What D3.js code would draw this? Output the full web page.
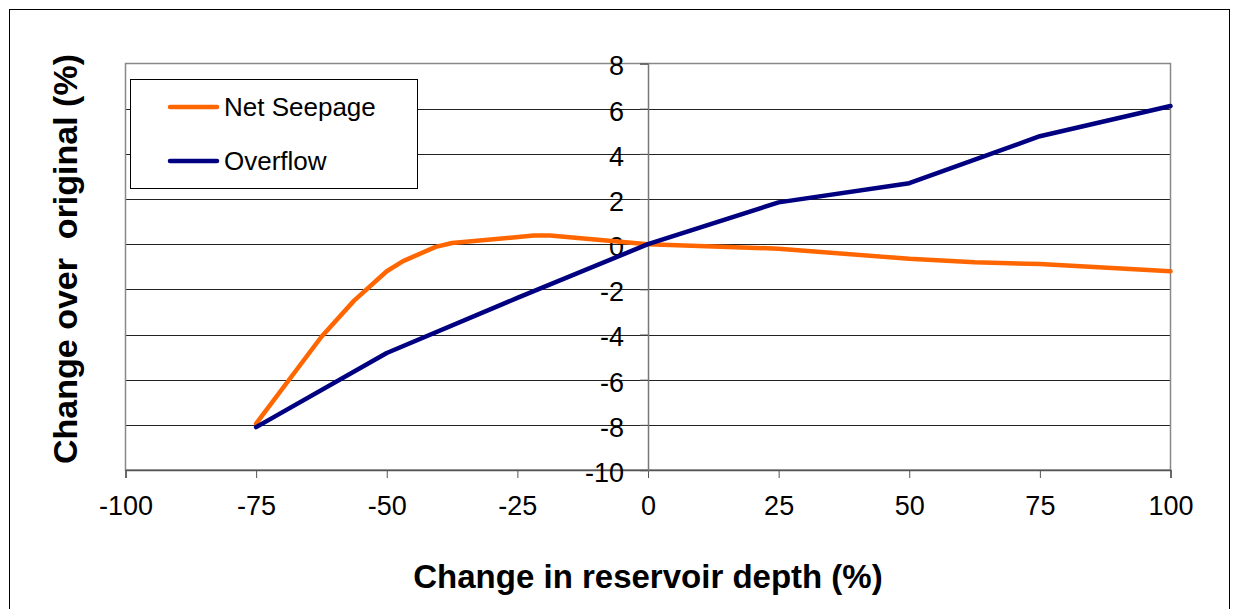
<!DOCTYPE html>
<html>
<head>
<meta charset="utf-8">
<script src="https://cdn.jsdelivr.net/npm/d3@7"></script>
<style>
  body { margin: 0; background: #fff; }
  text { font-family: "Liberation Sans", Arial, sans-serif; }
</style>
</head>
<body>
<div class="chart"></div>
<script>
// data
let seepageX = [-75, -62.5, -56.25, -50, -46.875, -40.625, -37.5, -21.875, -18.75, 0, 25, 50, 62.5, 75, 100]
let seepageY = [-7.95, -4.1, -2.5, -1.2, -0.75, -0.12, 0.05, 0.38, 0.38, 0, -0.2, -0.65, -0.8, -0.88, -1.2]
let overflowX = [-75, -50, -25, 0, 25, 50, 75, 100]
let overflowY = [-8.1, -4.82, -2.38, 0, 1.85, 2.7, 4.78, 6.12]
let xTicks = [-100, -75, -50, -25, 0, 25, 50, 75, 100]
let yTicks = [-10, -8, -6, -4, -2, 0, 2, 4, 6, 8]
let seriesNames = ["Net Seepage", "Overflow"]
let seriesColors = ["#FF6600", "#000080"]

let width = 1237, height = 609
let plotLeft = 125.5, plotRight = 1170.5, plotTop = 63.5, plotBottom = 470

let svg = d3.select(".chart")
  .append("svg")
  .attr("width", width)
  .attr("height", height)

// outer frame
svg.append("rect")
  .attr("x", 9.5).attr("y", 9.5)
  .attr("width", 1220).attr("height", 620)
  .attr("fill", "none")
  .attr("stroke", "#000")

let x = d3.scaleLinear().domain([-100, 100]).range([plotLeft, plotRight])
let y = d3.scaleLinear().domain([-10, 8]).range([plotBottom, plotTop])

//网格线
svg.append("g")
  .selectAll("line")
  .data(yTicks.filter(d => d > -10 && d < 8))
  .enter()
  .append("line")
  .attr("x1", plotLeft).attr("x2", plotRight)
  .attr("y1", d => Math.round(y(d)) + 0.5)
  .attr("y2", d => Math.round(y(d)) + 0.5)
  .attr("stroke", "#222")
  .attr("stroke-width", 1)

// plot border
svg.append("rect")
  .attr("x", plotLeft).attr("y", plotTop)
  .attr("width", plotRight - plotLeft).attr("height", plotBottom - plotTop)
  .attr("fill", "none")
  .attr("stroke", "#888")
  .attr("stroke-width", 1.5)

// x axis at bottom
let xAxis = svg.append("g")
  .attr("transform", `translate(0,${plotBottom})`)
  .call(d3.axisBottom(x).tickValues(xTicks).tickSize(8).tickPadding(18).tickFormat(d => String(d)))
xAxis.select(".domain").attr("stroke", "#555").attr("stroke-width", 1.5)
xAxis.selectAll(".tick line").attr("stroke", "#555")
xAxis.selectAll("text")
  .attr("font-size", 27)
  .attr("fill", "#000")
  .attr("font-family", "Liberation Sans, Arial, sans-serif")

// y axis through x = 0
let yAxis = svg.append("g")
  .attr("transform", `translate(${x(0)},0)`)
  .call(d3.axisLeft(y).tickValues(yTicks).tickSize(8).tickPadding(16).tickFormat(d => String(d)))
yAxis.select(".domain").attr("stroke", "#777").attr("stroke-width", 1.5)
yAxis.selectAll(".tick line").attr("stroke", "#555")
yAxis.selectAll("text")
  .attr("font-size", 27)
  .attr("fill", "#000")
  .attr("dy", "0.42em")
  .attr("font-family", "Liberation Sans, Arial, sans-serif")

// lines
let line = d3.line().x(d => x(d[0])).y(d => y(d[1]))
let series = [d3.zip(seepageX, seepageY), d3.zip(overflowX, overflowY)]
svg.append("g")
  .selectAll("path")
  .data(series)
  .enter()
  .append("path")
  .attr("d", line)
  .attr("fill", "none")
  .attr("stroke", (d, i) => seriesColors[i])
  .attr("stroke-width", 4.5)
  .attr("stroke-linejoin", "round")
  .attr("stroke-linecap", "round")

// legend
let legend = svg.append("g")
legend.append("rect")
  .attr("x", 130.5).attr("y", 79.5)
  .attr("width", 287).attr("height", 109)
  .attr("fill", "#fff")
  .attr("stroke", "#000")
let item = legend.selectAll("g")
  .data(seriesNames)
  .enter()
  .append("g")
  .attr("transform", (d, i) => `translate(0,${107 + i * 54})`)
item.append("line")
  .attr("x1", 170).attr("x2", 217)
  .attr("stroke", (d, i) => seriesColors[i])
  .attr("stroke-width", 4.5)
  .attr("stroke-linecap", "round")
item.append("text")
  .attr("x", 224)
  .attr("dy", "0.36em")
  .attr("font-size", 26)
  .text(d => d)

// axis titles
svg.append("text")
  .attr("x", x(0))
  .attr("y", 588)
  .attr("text-anchor", "middle")
  .attr("font-weight", "bold")
  .attr("font-size", 33)
  .text("Change in reservoir depth (%)")

svg.append("text")
  .attr("transform", `translate(77,259) rotate(-90)`)
  .attr("text-anchor", "middle")
  .attr("font-weight", "bold")
  .attr("font-size", 34)
  .style("white-space", "pre")
  .text("Change over  original (%)")
</script>
</body>
</html>
